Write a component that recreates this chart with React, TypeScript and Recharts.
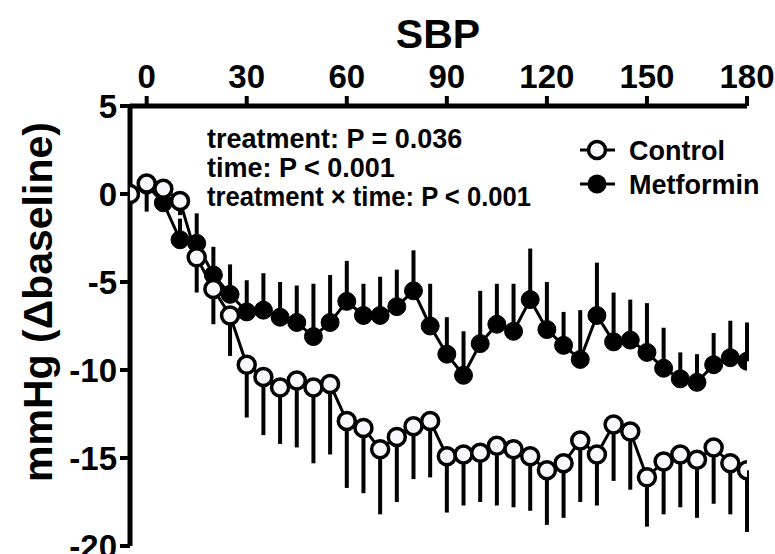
import { ErrorBar, Line, LineChart, XAxis, YAxis } from "recharts";

const FONT = '"Liberation Sans", Arial, Helvetica, sans-serif';

// minutes after baseline (-5 = baseline reading)
const minutes = [
  -5, 0, 5, 10, 15, 20, 25, 30, 35, 40, 45, 50, 55, 60, 65, 70, 75, 80, 85,
  90, 95, 100, 105, 110, 115, 120, 125, 130, 135, 140, 145, 150, 155, 160,
  165, 170, 175, 180,
];

const controlMean = [
  0, 0.6, 0.3, -0.4, -3.6, -5.4, -6.9, -9.7, -10.4, -11.0, -10.6, -11.0,
  -10.8, -12.9, -13.3, -14.5, -13.8, -13.2, -12.9, -14.9, -14.8, -14.7,
  -14.3, -14.5, -14.9, -15.7, -15.3, -14.0, -14.8, -13.1, -13.5, -16.1,
  -15.2, -14.8, -15.1, -14.4, -15.3, -15.7,
];
const controlSem = [
  0, 1.6, 0.5, 0.8, 2.0, 2.0, 2.3, 3.0, 3.3, 3.2, 3.8, 4.3, 4.0, 3.8, 3.7,
  3.7, 3.7, 3.0, 3.2, 3.2, 2.9, 2.8, 3.4, 3.3, 3.1, 3.1, 3.1, 3.5, 2.9, 3.2,
  3.3, 2.8, 3.0, 3.0, 3.3, 3.2, 2.9, 3.5,
];

const metforminMean = [
  0, 0.5, -0.5, -2.6, -2.8, -4.6, -5.7, -6.7, -6.6, -7.0, -7.3, -8.1, -7.3,
  -6.1, -6.9, -6.9, -6.4, -5.5, -7.5, -9.1, -10.3, -8.5, -7.4, -7.8, -6.0,
  -7.7, -8.6, -9.4, -6.9, -8.4, -8.3, -9.0, -9.9, -10.5, -10.7, -9.7, -9.3,
  -9.5,
];
const metforminSem = [
  0, 0.6, 0.5, 1.2, 1.7, 1.6, 1.7, 1.8, 2.1, 2.0, 2.1, 3.0, 2.7, 2.3, 1.8,
  2.2, 2.1, 2.3, 2.4, 2.1, 2.5, 3.0, 2.3, 2.7, 2.9, 2.7, 1.9, 2.8, 3.0, 2.8,
  2.3, 2.8, 2.3, 1.5, 1.6, 1.8, 2.1, 2.2,
];

const xTicks = [0, 30, 60, 90, 120, 150, 180];
const yTicks = [-20, -15, -10, -5, 0, 5];

const stats = [
  "treatment: P = 0.036",
  "time: P < 0.001",
  "treatment \u00d7 time: P < 0.001",
];

const data = minutes.map((t, i) => ({
  t,
  control: controlMean[i],
  controlErr: [controlSem[i], 0],
  metformin: metforminMean[i],
  metforminErr: [0, metforminSem[i]],
}));

const tickStyle = { fill: "#000", fontSize: 33, fontWeight: 700, fontFamily: FONT };

export default function App() {
  return (
    <div style={{ position: "absolute", left: 0, top: 0, width: 775, height: 554, background: "#fff" }}>
      <LineChart
        width={775}
        height={554}
        data={data}
        margin={{ top: 6, right: 28, bottom: 8, left: 60 }}
      >
        <XAxis
          dataKey="t"
          type="number"
          orientation="top"
          domain={[-5, 180]}
          ticks={xTicks}
          interval={0}
          height={100}
          allowDataOverflow
          axisLine={{ stroke: "#000", strokeWidth: 5 }}
          tickLine={{ stroke: "#000", strokeWidth: 4 }}
          tickSize={10}
          tickMargin={8}
          tick={tickStyle}
        />
        <YAxis
          type="number"
          domain={[-20, 5]}
          ticks={yTicks}
          interval={0}
          width={70}
          allowDataOverflow
          axisLine={{ stroke: "#000", strokeWidth: 5 }}
          tickLine={{ stroke: "#000", strokeWidth: 4 }}
          tickSize={10}
          tickMargin={3}
          tick={tickStyle}
        />
        <Line
          dataKey="metformin"
          type="linear"
          stroke="#000"
          strokeWidth={3}
          dot={{ r: 9, fill: "#000", stroke: "#000", strokeWidth: 1 }}
          isAnimationActive={false}
        >
          <ErrorBar dataKey="metforminErr" direction="y" width={0} stroke="#000" strokeWidth={4} isAnimationActive={false} />
        </Line>
        <Line
          dataKey="control"
          type="linear"
          stroke="#000"
          strokeWidth={3}
          dot={{ r: 8.5, fill: "#f7f7fc", stroke: "#000", strokeWidth: 3.5 }}
          isAnimationActive={false}
        >
          <ErrorBar dataKey="controlErr" direction="y" width={0} stroke="#000" strokeWidth={4} isAnimationActive={false} />
        </Line>
      </LineChart>

      <svg
        width={775}
        height={554}
        style={{ position: "absolute", left: 0, top: 0, pointerEvents: "none" }}
        fontFamily={FONT}
        fontWeight={700}
      >
        <text x={438} y={48} textAnchor="middle" fontSize={41}>
          SBP
        </text>
        <text
          x={52}
          y={302}
          textAnchor="middle"
          fontSize={41}
          transform="rotate(-90 52 302)"
        >
          mmHg (Δbaseline)
        </text>
        {stats.map((s, i) => (
          <text
            key={s}
            x={207}
            y={148 + i * 29}
            fontSize={27}
            textLength={i === 2 ? 324 : undefined}
            lengthAdjust="spacingAndGlyphs"
          >
            {s}
          </text>
        ))}
        {/* legend */}
        <line x1={580} x2={615} y1={150} y2={150} stroke="#000" strokeWidth={3} />
        <circle cx={597} cy={150} r={8.5} fill="#f7f7fc" stroke="#000" strokeWidth={3.5} />
        <text x={629} y={160} fontSize={27}>
          Control
        </text>
        <line x1={580} x2={615} y1={184} y2={184} stroke="#000" strokeWidth={3} />
        <circle cx={597} cy={184} r={9.5} fill="#000" />
        <text x={629} y={194} fontSize={27}>
          Metformin
        </text>
      </svg>
    </div>
  );
}
